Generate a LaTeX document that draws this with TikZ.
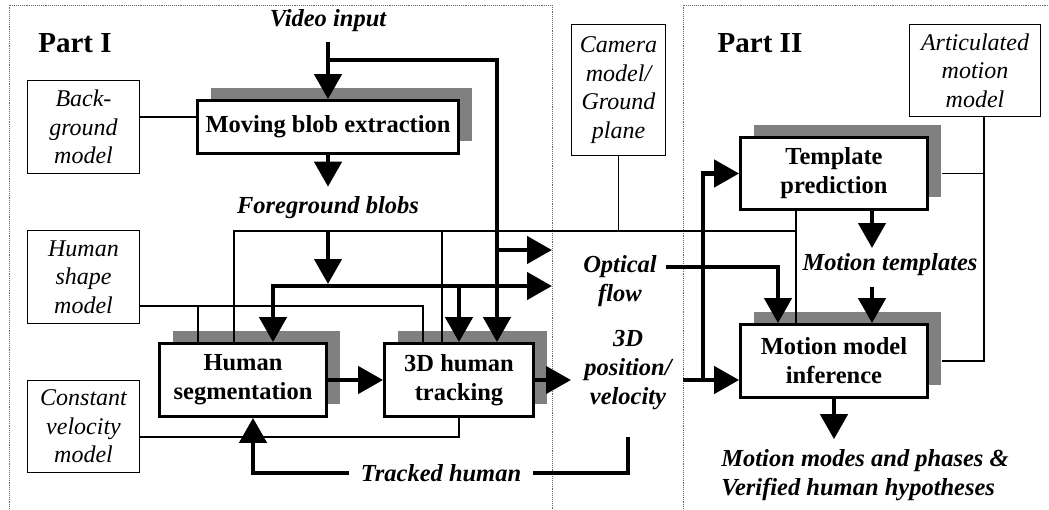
\documentclass[tikz,border=0pt]{standalone}
\usepackage{fontspec}
\setmainfont{Liberation Serif}
\usetikzlibrary{arrows.meta,shadows,positioning}
\definecolor{shadowgray}{HTML}{808080}

\begin{document}
\begin{tikzpicture}[x=1pt, y=-1pt,
    procbox/.style={draw, line width=2.8pt, fill=white, inner sep=0pt, align=center,
        font=\fontsize{24.5}{29}\selectfont\bfseries,
        general shadow={fill=shadowgray, shadow xshift=13pt, shadow yshift=13pt}},
    modelbox/.style={draw, line width=1.4pt, fill=white, inner sep=0pt, align=center,
        font=\fontsize{24}{28.5}\selectfont\itshape},
    datalabel/.style={inner sep=2pt, align=center,
        font=\fontsize{24.5}{29}\selectfont\bfseries\itshape},
    parttitle/.style={inner sep=0pt, font=\fontsize{29}{32}\selectfont\bfseries},
    flow/.style={line width=4.5pt, -{Triangle[length=25pt,width=27pt]}},
    flowboth/.style={line width=4.5pt, {Triangle[length=25pt,width=27pt]}-{Triangle[length=25pt,width=27pt]}},
    flowline/.style={line width=4.5pt},
    link/.style={line width=1.4pt},
    frame/.style={densely dotted, line width=0.9pt, black!60}]
\useasboundingbox (0,0) rectangle (1049,509);

\draw[frame] (9,509) -- (9,5) -- (552,5) -- (552,509);
\draw[frame] (683,509) -- (683,5) -- (1049,5);

\node[parttitle] (part1) at (75,43) {Part I};
\node[parttitle] (part2) at (760,43) {Part II};

\node[procbox, minimum width=261pt, minimum height=53pt] (blob) at (328,127) {Moving blob extraction};
\node[procbox, minimum width=167pt, minimum height=73pt] (seg) at (243,380) {Human\\segmentation};
\node[procbox, minimum width=149pt, minimum height=73pt] (track) at (459,380) {3D human\\tracking};
\node[procbox, minimum width=187pt, minimum height=72pt] (tmpl) at (834,173.5) {Template\\prediction};
\node[procbox, minimum width=187pt, minimum height=73pt] (infer) at (834,361) {Motion model\\inference};

\node[modelbox, minimum width=112pt, minimum height=93pt] (bg) at (83.5,127) {Back-\\ground\\model};
\node[modelbox, minimum width=112pt, minimum height=93pt] (shape) at (83.5,277) {Human\\shape\\model};
\node[modelbox, minimum width=112pt, minimum height=92pt] (cvel) at (83.5,426.5) {Constant\\velocity\\model};
\node[modelbox, minimum width=94pt, minimum height=131pt] (cam) at (618.5,90) {Camera\\model/\\Ground\\plane};
\node[modelbox, minimum width=131pt, minimum height=92pt] (artic) at (975,70.5) {Articulated\\motion\\model};

\node[datalabel] (video) at (328,21) {Video input};
\node[datalabel] (fg) at (328,208) {Foreground blobs};
\node[datalabel] (optflow) at (620,281) {Optical\\flow};
\node[datalabel] (pos3d) at (628,370) {3D\\position/\\velocity};
\node[datalabel, inner xsep=12pt] (tracked) at (441,473) {Tracked human};
\node[datalabel] (tmplout) at (890,265) {Motion templates};
\node[datalabel, align=left] (result) at (865,475) {Motion modes and phases \&\\Verified human hypotheses};

\coordinate (vsplit) at (328,60);
\coordinate (vflow) at (497,250);
\coordinate (ofin) at (552,250);
\coordinate (fgin) at (552,286);
\coordinate (fgleft) at (234,231);
\coordinate (fgright) at (796,231);
\coordinate (fgjoin) at (328,286);
\coordinate (posin) at (571,380);
\coordinate (loopstart) at (628,437);
\coordinate (posjoin) at (703,380);
\coordinate (posout) at (683,380);
\coordinate (tmplin) at (872,287);
\coordinate (tmplarr) at (872,248);
\coordinate (shapeout) at ([yshift=-29pt]shape.east);
\coordinate (segin) at ([xshift=-45pt]seg.north);
\coordinate (trackin) at ([xshift=-36pt]track.north);
\coordinate (articdrop) at ([xshift=9pt]artic.south);

\draw[link] ([yshift=10pt]bg.east) -- ([yshift=10pt]bg.east -| blob.west);
\draw[link] ([xshift=-9pt]seg.north) -- (fgleft) -- (fgright);
\draw[link] ([xshift=-17pt]track.north) -- ([xshift=-17pt]track.north |- fgleft);
\draw[link] (cam.south) -- (cam.south |- fgleft);
\draw[link] ([xshift=-38pt]tmpl.south) -- ([xshift=-38pt]infer.north);
\draw[link] (shapeout) -| (trackin);
\draw[link] (segin) -- (segin |- shapeout);
\draw[link] ([yshift=-10.5pt]cvel.east) -| (track.south);
\draw[link] (articdrop) |- ([xshift=13pt]infer.east);
\draw[link] ([xshift=13pt]tmpl.east) -- (tmpl.east -| articdrop);

\draw[flow] ([yshift=-8pt]video.south) -- (blob.north);
\draw[flow] (vsplit) -| ([xshift=38pt]track.north);
\draw[flow] (vflow) -- (ofin);
\draw[flow] (blob.south) -- ([yshift=8pt]fg.north);
\draw[flow, shorten >=2pt] (fgleft -| blob.south) -- (fgjoin);
\draw[flowboth] (fgin) -| ([xshift=30pt]seg.north);
\draw[flow] (track.north |- fgin) -- (track.north);
\draw[flow] (seg.east) -- (track.west);
\draw[flow] (track.east) -- (posin);
\draw[flowline] (loopstart) |- (tracked.east);
\draw[flow] (tracked.west) -| ([xshift=10pt]seg.south);
\draw[flow, shorten <=7pt] ([yshift=14pt]optflow.east) -| ([xshift=-56pt]infer.north);
\draw[flow] (posout) -- ([yshift=-19pt]infer.west);
\draw[flow] (posjoin) |- (tmpl.west);
\draw[flow] ([xshift=38pt]tmpl.south) -- (tmplarr);
\draw[flow] (tmplin) -- ([xshift=38pt]infer.north);
\draw[flow] (infer.south) -- ([yshift=8pt]infer.south |- result.north);
\end{tikzpicture}
\end{document}
